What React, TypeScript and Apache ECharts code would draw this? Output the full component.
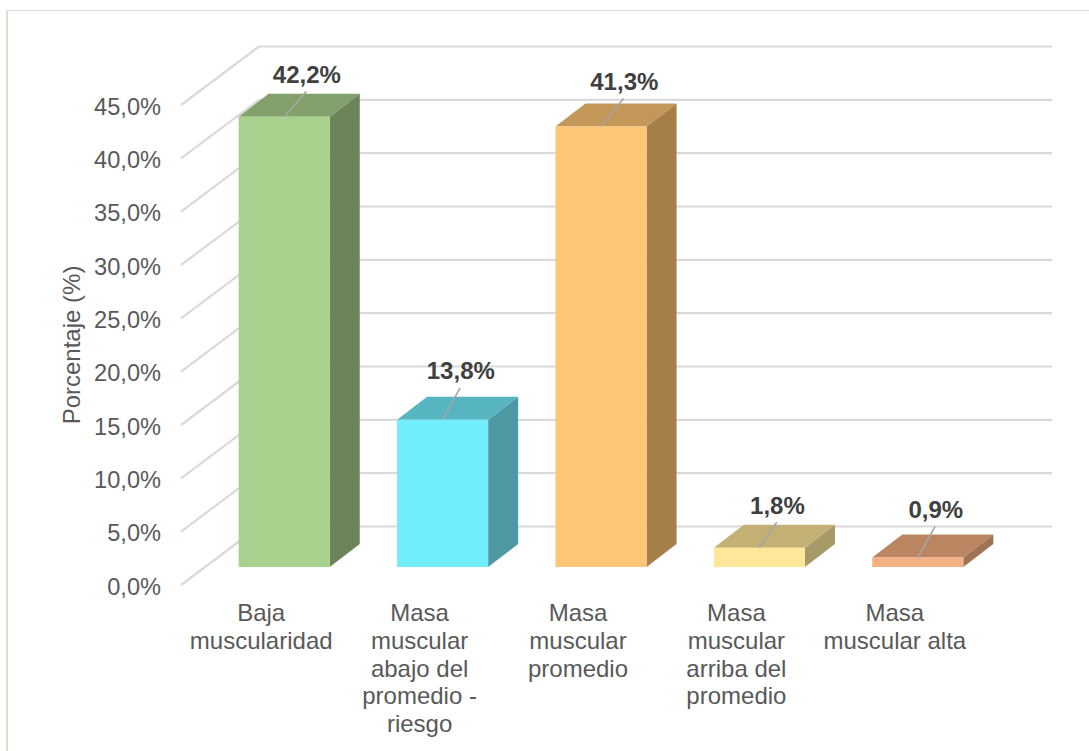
import React, { useEffect, useRef } from "react";
import * as echarts from "echarts";

const categories = [
  "Baja\nmuscularidad",
  "Masa\nmuscular\nabajo del\npromedio -\nriesgo",
  "Masa\nmuscular\npromedio",
  "Masa\nmuscular\narriba del\npromedio",
  "Masa\nmuscular alta",
];
const values = [42.2, 13.8, 41.3, 1.8, 0.9];
const valueLabels = ["42,2%", "13,8%", "41,3%", "1,8%", "0,9%"];
const tickValues = [0, 5, 10, 15, 20, 25, 30, 35, 40, 45];

const frontColors = ["#A9D18E", "#72EDFC", "#FFC677", "#FFE699", "#F4B183"];
const topColors = ["#81A06C", "#57B5C1", "#C29757", "#C2B074", "#BA8560"];
const sideColors = ["#6B8559", "#4D98A2", "#A67E4A", "#A69A66", "#A07354"];
const leaderRun = [22, 17.5, 22.6, 17.3, 17.3];
const leaderRise = [25.5, 32, 28, 25.5, 31];

const FONT = '"Liberation Sans", Arial, sans-serif';
const FONT_SIZE = 24;
const TICK_FONT_SIZE = 23.6;
const GRID_LEFT = 182;
const WALL_LEFT = 181;
const WALL_DX = 78;
const WALL_DY = -58.5;
const BAR_DX = 23;
const BAR_DY = -18;
const DEPTH_DX = 30;
const DEPTH_DY = -23;
const GRID_COLOR = "#DADADA";

export default function App() {
  const ref = useRef<HTMLDivElement>(null);
  useEffect(() => {
    document.body.style.margin = "0";
    const chart = echarts.init(ref.current!, null, { renderer: "svg" });
    chart.setOption({
      animation: false,
      backgroundColor: "#FFFFFF",
      graphic: [
        { type: "line", silent: true, shape: { x1: 7, y1: 10, x2: 7, y2: 751 }, style: { stroke: "#DDDCCF", lineWidth: 2 } },
        { type: "line", silent: true, shape: { x1: 7, y1: 10.5, x2: 1089, y2: 10.5 }, style: { stroke: "#E2E1DA", lineWidth: 1.5 } },
      ],
      grid: { left: GRID_LEFT, top: 105, width: 792, height: 480, containLabel: false },
      xAxis: {
        type: "category",
        data: categories,
        axisLine: { show: false },
        axisTick: { show: false },
        axisLabel: {
          interval: 0,
          margin: 14,
          fontFamily: FONT,
          fontSize: FONT_SIZE,
          lineHeight: 27.6,
          color: "#595959",
          align: "center",
          verticalAlign: "top",
        },
      },
      yAxis: {
        type: "value",
        min: 0,
        max: 45,
        interval: 5,
        name: "Porcentaje (%)",
        nameLocation: "middle",
        nameRotate: 90,
        nameGap: 99,
        nameTextStyle: { fontFamily: FONT, fontSize: FONT_SIZE, color: "#595959" },
        axisLine: { show: false },
        axisTick: { show: false },
        splitLine: { show: false },
        axisLabel: {
          margin: 21,
          verticalAlign: "top",
          lineHeight: 3,
          fontFamily: FONT,
          fontSize: TICK_FONT_SIZE,
          color: "#595959",
          formatter: (v: number) => v.toFixed(1).replace(".", ",") + "%",
        },
      },
      series: [
        {
          type: "custom",
          z: 1,
          silent: true,
          data: tickValues.map((v) => [0, v]),
          encode: { x: 0, y: 1 },
          renderItem: (_p: any, api: any) => {
            const [, y] = api.coord([0, api.value(1)]);
            const x = WALL_LEFT;
            const line = (x1: number, y1: number, x2: number, y2: number) => ({
              type: "line",
              shape: { x1, y1, x2, y2 },
              style: { stroke: GRID_COLOR, lineWidth: 2.2, fill: "none" },
            });
            return {
              type: "group",
              children: [
                line(x, y, x + WALL_DX, y + WALL_DY),
                line(x + WALL_DX, y + WALL_DY, x + 793 + WALL_DX, y + WALL_DY),
              ],
            };
          },
        },
        {
          type: "custom",
          z: 2,
          silent: true,
          data: values.map((v, i) => [i, v]),
          encode: { x: 0, y: 1 },
          renderItem: (p: any, api: any) => {
            const i = p.dataIndex;
            const [cx, yTop] = api.coord([api.value(0), api.value(1)]);
            const [, yBase] = api.coord([api.value(0), 0]);
            const w = api.size([1, 0])[0] * 0.575;
            const l = cx + BAR_DX - w / 2;
            const r = l + w;
            const t = yTop + BAR_DY;
            const b = yBase + BAR_DY;
            const mid = (l + r) / 2;
            const poly = (points: number[][], fill: string) => ({ type: "polygon", shape: { points }, style: { fill, stroke: "none" } });
            const rise = leaderRise[i];
            const run = leaderRun[i];
            return {
              type: "group",
              children: [
                poly([[r, t], [r + DEPTH_DX, t + DEPTH_DY], [r + DEPTH_DX, b + DEPTH_DY], [r, b]], sideColors[i]),
                poly([[l, t], [l + DEPTH_DX, t + DEPTH_DY], [r + DEPTH_DX, t + DEPTH_DY], [r, t]], topColors[i]),
                poly([[l, t], [r, t], [r, b], [l, b]], frontColors[i]),
                {
                  type: "line",
                  shape: { x1: mid, y1: t, x2: mid + run, y2: t - rise },
                  style: { stroke: "#A6A6A6", lineWidth: 1.6 },
                },
                {
                  type: "text",
                  style: {
                    x: mid + run + 0.7,
                    y: t - rise - 17,
                    text: valueLabels[i],
                    fontFamily: FONT,
                    fontSize: FONT_SIZE,
                    fontWeight: "bold",
                    fill: "#404040",
                    align: "center",
                    verticalAlign: "middle",
                  },
                },
              ],
            };
          },
        },
      ],
    });
    return () => chart.dispose();
  }, []);
  return <div ref={ref} style={{ width: 1089, height: 751 }} />;
}
